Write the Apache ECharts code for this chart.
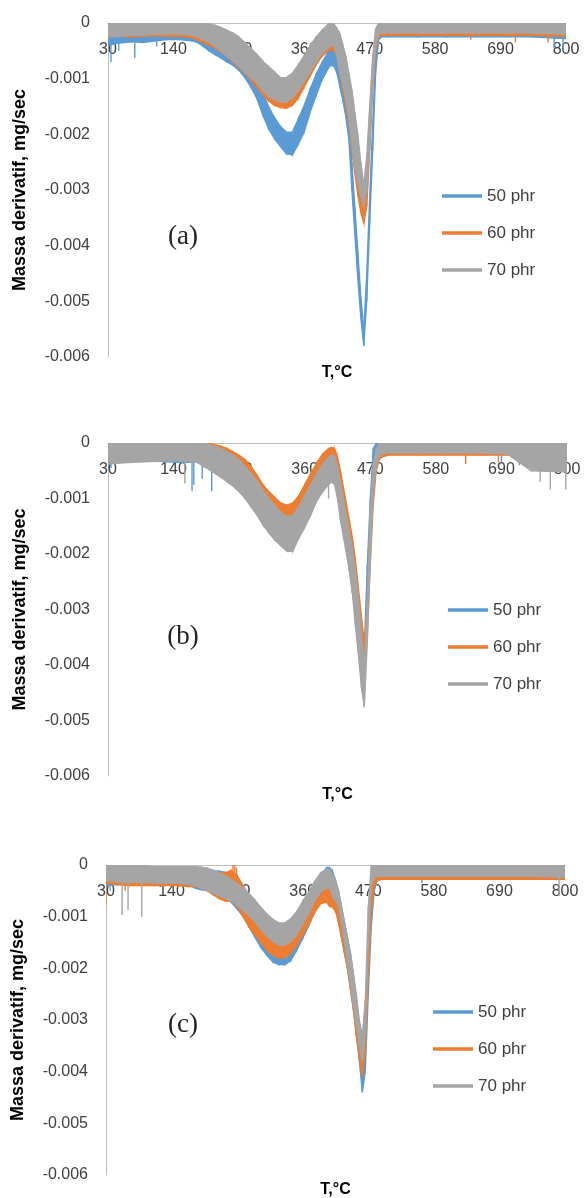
<!DOCTYPE html>
<html>
<head>
<meta charset="utf-8">
<script src="https://cdn.jsdelivr.net/npm/echarts@6/dist/echarts.min.js"></script>
<style>
  body { margin: 0; background: #fff; }
  #chart { width: 584px; height: 1198px; }
</style>
</head>
<body>
<div id="chart"></div>
<script>
// temperature grid (°C), shared by every curve
const T = [30, 50, 70, 90, 110, 130, 150, 170,
  180, 190, 200, 210, 220, 230, 240, 250, 260, 270, 280, 290, 300, 310, 320, 330, 340, 350, 360, 370, 380, 390, 400,
  405, 410, 415, 420, 425, 430, 435, 440, 445, 450, 455, 460, 465, 470, 475, 480, 485, 490,
  500, 550, 600, 650, 700, 740, 800]

// values in 1e-4 mg/sec; each curve is a noisy band -> upper (Hi) and lower (Lo) edge
// panel (a)
const a50Hi = [-1.2, -1.3, -1.2, -1.3, -1.2, -1.2, -1.3, -1.4,
  -1.5, -2.2, -3.0, -3.5, -4.0, -4.5, -5.0, -5.8, -6.8, -8.0, -9.8, -12.5, -15.0, -17.0, -18.6, -19.6, -19.6, -17.2, -14.8, -11.8, -9.2, -7.0, -5.2,
  -4.8, -4.8, -5.5, -7.0, -9.5, -13, -17, -25, -33, -41, -49, -55, -45, -31, -18, -6, -1, -1.2,
  -1, -1, -1, -1, -1, -1, -1.2]
const a50Lo = [-4.0, -3.6, -3.4, -3.5, -3.2, -3.0, -3.0, -3.2,
  -3.5, -4.2, -5.0, -5.7, -6.3, -7.0, -7.6, -8.5, -9.8, -11.5, -13.5, -16.5, -19.0, -20.8, -22.2, -23.5, -23.7, -21.8, -19.5, -16.0, -13.0, -10.2, -8.2,
  -7.6, -7.8, -9.0, -11.5, -14, -17, -21, -30, -38, -46, -53, -58, -50, -36, -23, -9, -3, -2.5,
  -2.5, -2.5, -2.5, -2.5, -2.5, -2.5, -2.8]
const a60Hi = [-0.5, -0.5, -0.6, -0.5, -0.5, -0.6, -0.5, -0.5,
  -0.5, -0.8, -1.0, -1.2, -1.5, -2.0, -2.5, -3.0, -3.8, -4.8, -6.0, -7.2, -8.5, -9.5, -10.0, -10.0, -9.5, -8.0, -6.2, -4.5, -2.8, -1.5, -0.6,
  -0.4, -0.8, -2, -3, -5, -7, -10, -13, -17, -21, -26, -30, -26, -16, -7, -2, -1, -0.8,
  -0.8, -0.8, -0.8, -0.8, -0.8, -0.8, -0.8]
const a60Lo = [-2.5, -2.4, -2.5, -2.4, -2.3, -2.4, -2.4, -2.6,
  -3.0, -3.5, -4.0, -4.5, -5.2, -6.0, -7.0, -8.0, -9.0, -10.2, -11.5, -12.8, -14.0, -14.8, -15.2, -15.3, -14.8, -13.5, -11.5, -9.5, -7.5, -6.0, -5.0,
  -4.8, -5, -6, -9, -12, -15, -18, -23, -27, -31, -34, -36, -33, -23, -12, -5, -2.5, -2.2,
  -2.2, -2.2, -2.2, -2.2, -2.2, -2.2, -2.4]
const a70Hi = [0, 0, 0, 0, 0, 0, 0, 0,
  0, 0, -0.2, -0.4, -0.8, -1.3, -1.8, -2.5, -3.5, -4.5, -5.6, -6.8, -7.8, -8.8, -9.8, -9.8, -9.0, -7.5, -5.8, -4.0, -2.5, -1.3, -0.2,
  0, -0.2, -1, -2, -4, -6, -9, -12, -16, -20, -25, -29, -24, -15, -6, -1, 0, 0,
  0, 0, 0, 0, 0, 0, 0]
const a70Lo = [-2.5, -2.4, -2.2, -2.2, -2.0, -2.0, -2.0, -2.2,
  -2.5, -3.0, -3.5, -4.2, -5.0, -6.0, -6.8, -7.8, -8.8, -9.8, -10.8, -12.2, -13.2, -13.8, -14.2, -14.2, -13.5, -12.2, -10.5, -8.8, -7.0, -5.5, -4.5,
  -4.0, -4.2, -6, -9, -11, -14, -17, -22, -26, -29, -31, -33, -30, -22, -11, -4, -2, -1.8,
  -1.8, -1.8, -1.8, -1.8, -1.8, -1.8, -2.0]

// panel (b)
const b50Hi = [-0.5, -0.5, -0.6, -0.5, -0.5, -0.5, -0.5, -0.5,
  -0.5, -0.8, -1.0, -1.2, -1.5, -2.0, -2.5, -3.0, -4.0, -5.2, -6.5, -8.0, -9.5, -10.8, -12.0, -12.6, -12.4, -11.0, -9.0, -7.0, -5.0, -3.4, -2.0,
  -1.8, -2.2, -3.8, -6, -9, -12, -15, -18, -22, -27, -33, -37, -22, -10, -1, 0, 0, -0.3,
  -0.5, -0.5, -0.5, -0.5, -0.5, -0.5, -0.5]
const b50Lo = [-3.8, -3.5, -3.4, -3.3, -3.3, -3.4, -3.5, -3.5,
  -3.5, -4.0, -4.5, -5.0, -5.8, -6.5, -7.2, -8.0, -9.5, -11.0, -12.5, -14.0, -15.5, -16.8, -17.8, -18.6, -18.6, -16.6, -14.5, -12.5, -10.0, -8.2, -7.0,
  -6.5, -7, -9.5, -13, -16, -19, -23, -27, -31, -35, -39, -42, -28, -15, -5, -2, -2, -2,
  -2, -2, -2, -2, -2, -2, -2]
const b60Hi = [-0.3, -0.3, -0.3, -0.3, -0.3, -0.3, -0.3, -0.3,
  0, 0, 0, -0.3, -0.6, -1.0, -1.6, -2.2, -3.0, -4.2, -5.8, -7.5, -8.8, -9.8, -10.8, -11.2, -10.8, -9.5, -7.5, -5.5, -3.6, -2.0, -1.0,
  -0.8, -1, -2.5, -5, -8, -11, -14, -17, -21, -26, -31, -36, -29, -15, -6, -2, -1, -0.5,
  -0.5, -0.5, -0.5, -0.5, -0.5, -0.5, -0.5]
const b60Lo = [-3.0, -2.9, -3.0, -2.9, -3.0, -3.0, -2.9, -3.0,
  -3.0, -3.5, -4.0, -4.5, -5.0, -5.5, -6.0, -6.8, -7.8, -9.0, -10.2, -11.5, -12.5, -13.5, -14.5, -15.2, -14.8, -13.0, -11.2, -9.2, -7.2, -5.5, -4.2,
  -3.8, -4, -6, -9, -12, -15, -18, -22, -26, -31, -36, -40, -35, -22, -11, -5, -3, -2.5,
  -2.2, -2.2, -2.2, -2.2, -2.2, -2.2, -2.2]
const b70Hi = [0, 0, 0, 0, 0, 0, 0, 0,
  0, 0, -0.3, -0.6, -1.0, -1.6, -2.2, -3.0, -4.2, -5.5, -6.8, -8.5, -10.0, -11.3, -12.5, -13.2, -13.0, -11.5, -9.5, -7.5, -5.5, -3.8, -2.5,
  -2.2, -2.5, -4, -7, -10, -13, -16, -19, -23, -28, -34, -40, -28, -12, -4, -1, 0, 0,
  0, 0, 0, 0, 0, 0, 0]
const b70Lo = [-3.8, -3.6, -3.5, -3.4, -3.3, -3.2, -3.2, -3.4,
  -3.5, -4.2, -4.8, -5.5, -6.2, -7.0, -7.8, -8.8, -10.0, -11.5, -13.0, -14.8, -16.2, -17.5, -18.5, -19.5, -19.5, -17.2, -15.2, -13.0, -10.5, -8.8, -7.5,
  -7, -7.5, -10, -14, -17, -20, -23, -27, -33, -38, -44, -47.6, -36, -21, -9, -4, -2.5, -2,
  -1.8, -1.8, -1.8, -1.8, -2.0, -5.0, -5.2]

// panel (c)
const c50Hi = [-0.5, -0.5, -0.5, -0.5, -0.5, -0.5, -0.5, -0.5,
  -1.0, -1.0, -1.0, -1.1, -1.2, -1.4, -2.0, -3.0, -4.2, -5.8, -7.8, -10.0, -11.5, -12.5, -13.0, -13.0, -12.0, -10.0, -8.0, -6.0, -4.0, -2.0, -0.5,
  -0.5, -1.2, -3, -5, -8, -11, -14, -17, -21, -26, -32, -38, -34, -18, -6, -2, -1, -0.8,
  -0.8, -0.8, -0.8, -0.8, -0.8, -0.8, -0.8]
const c50Lo = [-4.0, -3.8, -3.8, -3.8, -3.8, -3.8, -3.9, -4.0,
  -4.5, -4.8, -5.0, -5.5, -6.0, -6.5, -7.2, -8.5, -10.0, -12.0, -14.0, -16.0, -17.5, -18.8, -19.3, -19.3, -18.5, -16.5, -14.2, -11.8, -9.2, -7.0, -5.0,
  -4.8, -5.5, -8, -11, -14, -17, -20, -24, -28, -33, -38, -44, -40, -25, -12, -5, -3, -2.8,
  -2.8, -2.8, -2.8, -2.8, -2.8, -2.8, -2.8]
const c60Hi = [-0.5, -0.5, -0.5, -0.5, -0.5, -0.5, -0.5, -0.5,
  -1.0, -1.0, -1.0, -1.2, -1.5, -1.5, -1.0, -2.0, -4.0, -6.0, -8.0, -10.0, -11.0, -11.8, -12.2, -12.0, -11.0, -9.5, -7.8, -6.0, -4.2, -3.0, -2.8,
  -3, -3.5, -5, -7, -9, -12, -15, -18, -22, -27, -32, -35, -30, -15, -4, -1, -1, -0.8,
  -0.8, -0.8, -0.8, -0.8, -0.8, -0.8, -0.8]
const c60Lo = [-3.5, -3.8, -4.0, -4.0, -4.0, -4.0, -4.0, -4.2,
  -4.2, -4.5, -5.0, -5.8, -6.5, -7.0, -7.0, -8.0, -10.0, -12.0, -13.5, -15.0, -16.5, -17.5, -18.0, -18.0, -17.0, -15.5, -13.5, -11.5, -9.2, -7.5, -7.2,
  -8, -8.2, -9, -11, -14, -17, -20, -24, -28, -33, -37, -41, -36, -22, -9, -4, -3, -2.8,
  -2.8, -2.8, -2.8, -2.8, -2.8, -2.8, -2.8]
const c70Hi = [0, 0, 0, 0, -0.3, -0.3, -0.3, -0.3,
  -0.3, -0.4, -0.6, -1.0, -1.5, -2.0, -2.8, -3.6, -4.5, -5.5, -6.8, -8.2, -9.5, -10.5, -11.2, -11.2, -10.4, -9.0, -7.0, -5.2, -3.2, -1.5, -0.8,
  -1, -1.8, -3, -5, -8, -11, -14, -17, -21, -25, -30, -33, -26, -8, 0, 0, 0, 0,
  0, 0, 0, 0, 0, 0, 0]
const c70Lo = [-3.0, -3.3, -3.3, -3.4, -3.5, -3.5, -3.5, -3.8,
  -4.0, -4.5, -5.0, -5.5, -6.0, -6.5, -7.0, -7.8, -8.8, -9.8, -11.0, -12.5, -13.8, -14.8, -15.5, -15.5, -14.8, -13.5, -11.5, -9.5, -7.0, -5.2, -4.5,
  -4.5, -6, -7, -8, -11, -15, -19, -23, -27, -31, -35, -38, -33, -16, -4, -2.5, -2.2, -2.2,
  -2.2, -2.2, -2.2, -2.2, -2.2, -2.2, -2.4]

// single noise spikes: [T, from, to] in 1e-4 mg/sec
const a50Spk = [[35, -3.5, -7], [48, -3.5, -5], [75, -3.5, -6.3], [112, -3, -4.2], [780, -2.5, -4.5], [795, -2.5, -5]]
const a60Spk = [[640, -2, -3], [715, -2, -3.5], [770, -2, -3.5]]
const a70Spk = []
const b50Spk = [[35, -3.5, -4.5], [171, -3.5, -8.7], [174, -3.5, -7.5], [188, -3.5, -6.5], [204, -4.5, -8.7], [690, -2, -3.5], [720, -2, -4]]
const b60Spk = [[630, -2, -3.8], [685, -2, -3.5]]
const b70Spk = [[159, -3.2, -7.3], [400, -7, -10], [755, -5, -7], [772, -5, -8.4], [798, -5, -8.4]]
const c50Spk = [[37, -3.5, -5], [560, -2.5, -3.5]]
const c60Spk = [[30, -3.5, -7.7], [62, -3.5, -5], [243, -4, 0], [246, -4, 0], [249, -4, -0.5]]
const c70Spk = [[57, -3, -9.7], [67, -3, -8.7], [90, -3, -10], [790, -2, -6]]

const SCALE = 1e-4
const names = ['50 phr', '60 phr', '70 phr']
const colors = ['#5B9BD5', '#ED7D31', '#A5A5A5']
const xTicks = [30, 140, 250, 360, 470, 580, 690, 800]

const panels = [
  { hi: [a50Hi, a60Hi, a70Hi], lo: [a50Lo, a60Lo, a70Lo], spk: [a50Spk, a60Spk, a70Spk],
    grid: { left: 108, top: 23, width: 458, height: 334 }, tag: '(a)', tagY: 237, titleY: 373, legend: [442, 186] },
  { hi: [b50Hi, b60Hi, b70Hi], lo: [b50Lo, b60Lo, b70Lo], spk: [b50Spk, b60Spk, b70Spk],
    grid: { left: 108, top: 443, width: 459, height: 333 }, tag: '(b)', tagY: 637, titleY: 795, legend: [448, 600] },
  { hi: [c50Hi, c60Hi, c70Hi], lo: [c50Lo, c60Lo, c70Lo], spk: [c50Spk, c60Spk, c70Spk],
    grid: { left: 106, top: 865, width: 459, height: 310 }, tag: '(c)', tagY: 1025, titleY: 1190, legend: [433, 1002] }
]

const labelFont = { fontFamily: 'Liberation Sans', fontSize: 16, color: '#404040' }
const grids = [], xAxes = [], yAxes = [], legends = [], graphics = [], series = []

// band between lower and upper edge, one quad per temperature step
function bandItem(color) {
  return (params, api) => {
    const i = params.dataIndexInside
    if (i >= params.dataInsideLength - 1) return { type: 'group', children: [] }
    const p0 = api.coord([api.value(0, i), api.value(2, i)])
    const p1 = api.coord([api.value(0, i + 1), api.value(2, i + 1)])
    const p2 = api.coord([api.value(0, i + 1), api.value(1, i + 1)])
    const p3 = api.coord([api.value(0, i), api.value(1, i)])
    return { type: 'polygon', shape: { points: [p0, p1, p2, p3] }, style: { fill: color, stroke: color, lineWidth: 1.3 } }
  }
}

function spikeItem(color) {
  return (params, api) => {
    const a = api.coord([api.value(0), api.value(1)])
    const b = api.coord([api.value(0), api.value(2)])
    return { type: 'line', shape: { x1: a[0], y1: a[1], x2: b[0], y2: b[1] }, style: { stroke: color, lineWidth: 1.4 } }
  }
}

panels.forEach((p, pi) => {
  grids.push(p.grid)
  xAxes.push({
    type: 'value', gridIndex: pi, min: 30, max: 800, position: 'top',
    axisLine: { onZero: false, lineStyle: { color: '#BFBFBF' } },
    axisTick: { show: false },
    splitLine: { show: false },
    axisLabel: Object.assign({ customValues: xTicks, inside: true, margin: 19, showMinLabel: true, showMaxLabel: true }, labelFont)
  })
  yAxes.push({
    type: 'value', gridIndex: pi, min: -0.006, max: 0, interval: 0.001,
    axisLine: { show: true, lineStyle: { color: '#BFBFBF' } },
    axisTick: { show: false },
    splitLine: { show: false },
    axisLabel: Object.assign({ margin: 18 }, labelFont),
    name: 'Massa derivatif, mg/sec',
    nameLocation: 'middle',
    nameGap: 79,
    nameTextStyle: { fontFamily: 'Liberation Sans', fontWeight: 'bold', fontSize: 18, color: '#000' }
  })
  legends.push({
    orient: 'vertical', left: p.legend[0], top: p.legend[1], padding: 0,
    data: names, icon: 'rect', itemWidth: 40, itemHeight: 3.5, itemGap: 17,
    textStyle: { fontFamily: 'Liberation Sans', fontSize: 17, color: '#404040', lineHeight: 20 },
    selectedMode: false
  })
  graphics.push({
    type: 'text', x: p.grid.left + p.grid.width / 2, y: p.titleY,
    style: { text: 'T,°C', font: 'bold 16px "Liberation Sans"', fill: '#000',
      align: 'center', verticalAlign: 'middle', textAlign: 'center', textVerticalAlign: 'middle' }
  })
  graphics.push({
    type: 'text', x: 183, y: p.tagY,
    style: { text: p.tag, font: '27px "Liberation Serif"', fill: '#222',
      align: 'center', verticalAlign: 'middle', textAlign: 'center', textVerticalAlign: 'middle' }
  })

  names.forEach((nm, si) => {
    const c = colors[si]
    const lo = p.lo[si], hi = p.hi[si]
    series.push({
      type: 'custom', name: nm, xAxisIndex: pi, yAxisIndex: pi, silent: true, clip: true,
      itemStyle: { color: c },
      data: T.map((t, i) => [t, lo[i] * SCALE, hi[i] * SCALE]),
      encode: { x: 0, y: [1, 2] },
      renderItem: bandItem(c)
    })
    series.push({
      type: 'custom', name: nm + ' spikes', xAxisIndex: pi, yAxisIndex: pi, silent: true, clip: true,
      data: p.spk[si].map(s => [s[0], s[1] * SCALE, s[2] * SCALE]),
      encode: { x: 0, y: [1, 2] },
      renderItem: spikeItem(c)
    })
  })
})

const chart = echarts.init(document.getElementById('chart'))
chart.setOption({
  animation: false,
  backgroundColor: '#fff',
  grid: grids,
  xAxis: xAxes,
  yAxis: yAxes,
  legend: legends,
  graphic: graphics,
  series
})
</script>
</body>
</html>
